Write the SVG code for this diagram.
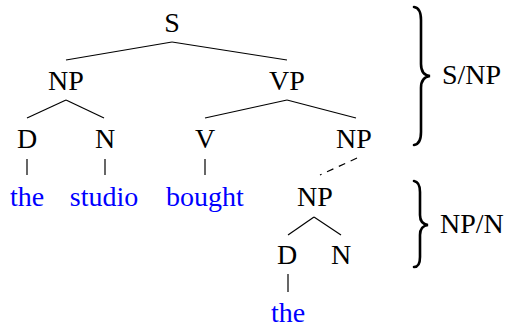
<svg xmlns="http://www.w3.org/2000/svg" width="507" height="328" viewBox="0 0 507 328">
<style>
text{font-family:"Liberation Serif","Times New Roman",serif;font-size:28px;fill:#000;text-anchor:middle}
text.w{fill:#0000ff}
text.l{text-anchor:start}
.e{stroke:#000;stroke-width:1.2;fill:none}
.d{stroke-dasharray:7,6}
.b{stroke:#000;stroke-width:2.6;fill:none;stroke-linecap:round}
</style>
<rect width="507" height="328" fill="#fff"/>
<g id="connectors">
<line class="e" x1="172" y1="42" x2="66" y2="60"/>
<line class="e" x1="172" y1="42" x2="287" y2="60"/>
<line class="e" x1="66" y1="100" x2="27" y2="118"/>
<line class="e" x1="66" y1="100" x2="104" y2="118"/>
<line class="e" x1="287" y1="100" x2="205" y2="118"/>
<line class="e" x1="287" y1="100" x2="356" y2="118"/>
<line class="e" x1="27" y1="159" x2="27" y2="175"/>
<line class="e" x1="105" y1="159" x2="105" y2="175"/>
<line class="e" x1="205" y1="159" x2="205" y2="175"/>
<line class="e d" x1="357" y1="158" x2="320" y2="175"/>
<line class="e" x1="314" y1="217" x2="288" y2="235"/>
<line class="e" x1="314" y1="217" x2="341" y2="235"/>
<line class="e" x1="288" y1="274" x2="288" y2="292"/>
</g>
<g id="S"><text x="172" y="32">S</text></g>
<g id="NP1"><text x="66" y="90">NP</text></g>
<g id="VP"><text x="287" y="90">VP</text></g>
<g id="D1"><text x="27" y="148">D</text></g>
<g id="N1"><text x="105" y="148">N</text></g>
<g id="V"><text x="205" y="148">V</text></g>
<g id="NP2"><text x="354" y="148">NP</text></g>
<g id="the1"><text class="w" x="27" y="206">the</text></g>
<g id="studio"><text class="w" x="104" y="206">studio</text></g>
<g id="bought"><text class="w" x="205" y="206">bought</text></g>
<g id="NP3"><text x="315" y="206">NP</text></g>
<g id="D2"><text x="287" y="264">D</text></g>
<g id="N2"><text x="341" y="264">N</text></g>
<g id="the2"><text class="w" x="288" y="322">the</text></g>
<g id="brace1">
<path class="b" d="M414,7 Q421,8 421,20 L421,64 Q421,75 430,76 Q421,77 421,88 L421,132 Q421,144 414,145"/>
<text class="l" x="442" y="84">S/NP</text>
</g>
<g id="brace2">
<path class="b" d="M414,181 Q420,182 420,192 L420,215 Q420,224 428,225 Q420,226 420,235 L420,257 Q420,267 414,267"/>
<text class="l" x="440" y="233">NP/N</text>
</g>
</svg>
